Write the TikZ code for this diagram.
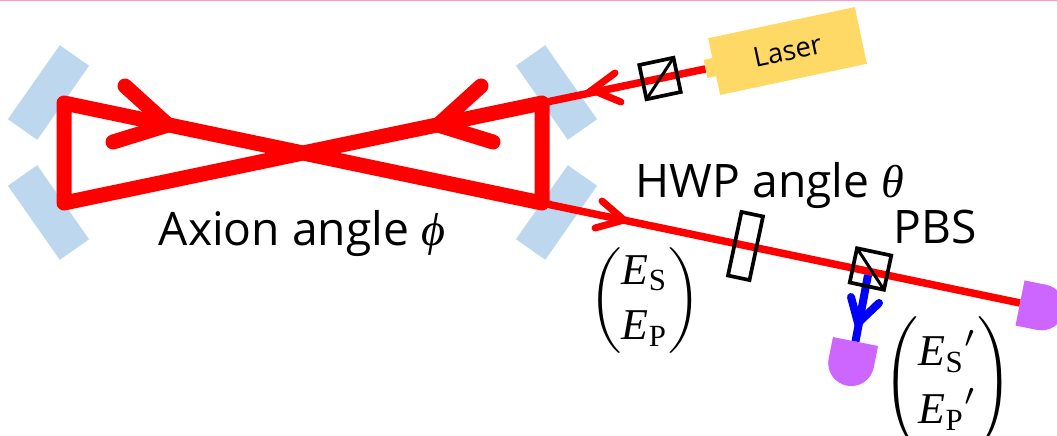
\documentclass[tikz,border=0pt]{standalone}
\usepackage{amsmath}
\usepackage{fontspec}
\setmainfont{Open Sans}
\newfontfamily\symbfont{Liberation Serif}
\usepackage{xcolor}
\usetikzlibrary{positioning, calc}
\definecolor{mirrorblue}{HTML}{BDD7EE}
\definecolor{laseryellow}{HTML}{FFD966}
\definecolor{detpurple}{HTML}{CC66FF}
\definecolor{framepink}{HTML}{FF99CC}
\tikzset{
  % Cavity mirrors
  mirror/.style={
    rectangle, minimum width=90.4pt, minimum height=35.8pt, inner sep=0pt,
    fill=mirrorblue, rotate=#1,
  },
  % Polarisation optics
  optic/.style={
    rectangle, draw=black, line width=3.7pt, inner sep=0pt, outer sep=0pt,
  },
  % Beams
  beam/.style={draw=#1, line width=7.5pt},
  beam/.default={red},
  cavity/.style={draw=red, line width=15pt, line join=round},
  barb/.style={draw=#1, line cap=round, line join=miter},
  barb/.default={red},
  % Labels
  biglabel/.style={font=\large, scale=3.85, inner sep=0pt, anchor=base west},
  fieldlabel/.style={scale=4.4, inner sep=0pt},
  % Detector
  detector/.pic={
    \fill[detpurple] (-23,0) -- (23,0) -- (23,22)
      .. controls (23,34.7) and (12.7,45) .. (0,45)
      .. controls (-12.7,45) and (-23,34.7) .. (-23,22) -- cycle;
  },
}
\newcommand{\fieldE}{\text{\symbfont\itshape E}}
\newcommand{\subup}[1]{_{\text{\symbfont #1}}}
\newcommand{\fieldvec}[4]{$\renewcommand{\arraystretch}{#3}\left(\begin{matrix} #1 \\ #2 \end{matrix}\vphantom{\rule[-#4]{0pt}{#4}}\right)$}

\begin{document}
\begin{tikzpicture}[x=1pt, y=-1pt]
  \useasboundingbox (0,0) rectangle (1057,436);
  \fill[framepink] (0,0) rectangle (1057,1.3);

  % Mirrors
  \node[mirror=55] (mirrorTL) at (48.5,92.5) {};
  \node[mirror=-55] (mirrorBL) at (48.5,212.5) {};
  \node[mirror=-55] (mirrorTR) at (556.5,92.5) {};
  \node[mirror=55] (mirrorBR) at (556.5,212.5) {};

  % Beam corners
  \coordinate (cornerTL) at (64,103);
  \coordinate (cornerBL) at (64,203);
  \coordinate (cornerTR) at (542,103);
  \coordinate (cornerBR) at (542,203);
  \coordinate (detright) at (1020,303);
  \coordinate (detlower) at (855.5,341.5);
  \coordinate (pbsdown) at (868,275);

  % Laser
  \node[fill=laseryellow, rotate=12, minimum width=150pt, minimum height=58pt,
        inner sep=0pt, font=\fontsize{27.5}{32}\selectfont] (laser) at (787.5,51) {Laser};
  \node[fill=laseryellow, rotate=12, minimum width=9pt, minimum height=18.5pt,
        inner sep=0pt] (nozzle) at (710,68) {};

  % Cavity and beams
  \draw[beam] (nozzle) -- (cornerTR);
  \draw[beam] (cornerBR) -- (detright);
  \draw[cavity] (cornerTL) -- (cornerBR) -- (cornerTR) -- (cornerBL) -- cycle;
  \draw[beam=blue, line width=8pt] (pbsdown) -- (detlower);

  % Optics
  \node[optic, minimum size=35pt, rotate=12] (isolator) at (660,78.5) {};
  \node[optic, minimum width=22pt, minimum height=65pt, rotate=-12] (hwp) at (745.5,246) {};
  \node[optic, minimum size=35pt, rotate=-12] (pbs) at (870.5,269) {};
  \draw[black, line width=3pt] (isolator.south west) -- (isolator.north east);
  \draw[black, line width=3pt] (pbs.north west) -- (pbs.south east);

  % Detectors
  \pic[rotate=-11.3] at (detlower) {detector};
  \pic[rotate=78.7] at (detright) {detector};

  % Arrowheads
  \coordinate (tipA) at (168,125);
  \coordinate (tipB) at (438,125);
  \coordinate (tipC) at (592,90);
  \coordinate (tipD) at (624,220);
  \coordinate (tipE) at (858,323);
  \draw[barb, line width=15pt] (125,86) -- (tipA) -- (113,142);
  \draw[barb, line width=15pt] (481,86) -- (tipB) -- (493,142);
  \draw[barb, line width=7pt] (615,73) -- (tipC) -- (621,102);
  \draw[barb, line width=7pt] (602,201) -- (tipD) -- (595,228);
  \draw[barb=blue, line width=8pt] (851,297) -- (tipE) -- (879,303);

  % Labels
  \node[biglabel] (axion) at (158,245) {Axion angle {\symbfont\itshape ϕ}};
  \node[biglabel] (hwplabel) at (635,197) {HWP angle {\symbfont\itshape θ}};
  \node[biglabel] (pbslabel) at (893,243) {PBS};
  \node[fieldlabel] (fieldin) at (645,301) {\fieldvec{\fieldE\subup{S}}{\fieldE\subup{P}}{1.05}{1pt}};
  \node[fieldlabel] (fieldout) at (948,383) {\fieldvec{{\fieldE\subup{S}}'}{{\fieldE\subup{P}}'}{1.1}{12pt}};
\end{tikzpicture}
\end{document}
